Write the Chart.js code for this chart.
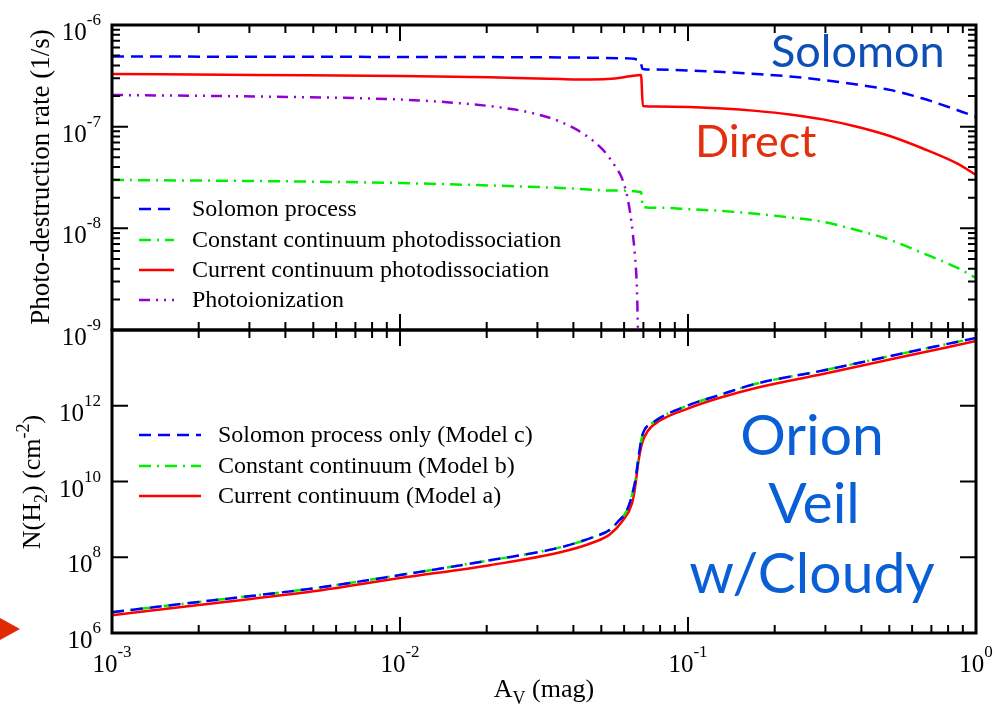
<!DOCTYPE html>
<html>
<head>
<meta charset="utf-8">
<script src="https://cdn.jsdelivr.net/npm/chart.js@4.4.1/dist/chart.umd.min.js"></script>
<style>
  html, body { margin: 0; padding: 0; background: #fff; }
  #wrap { position: relative; width: 995px; height: 707px; overflow: hidden; }
  #wrap canvas { position: absolute; left: 0; top: 0; }
  #marker { position: absolute; left: 0; top: 618px; width: 0; height: 0;
            border-top: 11px solid transparent; border-bottom: 11px solid transparent;
            border-left: 20px solid #e02a00; }
</style>
</head>
<body>
<div id="wrap">
  <canvas id="rates" width="995" height="707"></canvas>
  <canvas id="column" width="995" height="707"></canvas>
  <div id="marker"></div>
</div>
<script>
// ---- axis ticks ----
var avTicks = [1e-3, 1e-2, 1e-1, 1];
var avTickExp = ['-3', '-2', '-1', '0'];
var rateTicks = [1e-9, 1e-8, 1e-7, 1e-6];
var rateTickExp = ['-9', '-8', '-7', '-6'];
var colTicks = [1e6, 1e8, 1e10, 1e12];
var colTickExp = ['6', '8', '10', '12'];
var minorSteps = [2, 3, 4, 5, 6, 7, 8, 9];

// ---- photo-destruction rates (1/s) vs A_V ----
var solomonAv   = [0.001, 0.01, 0.036, 0.06, 0.066, 0.0685, 0.0695, 0.072, 0.101, 0.132, 0.172, 0.226, 0.294, 0.386, 0.502, 0.654, 0.859, 1.0];
var solomonRate = [4.9e-7, 4.85e-7, 4.8e-7, 4.7e-7, 4.6e-7, 4.3e-7, 3.7e-7, 3.66e-7, 3.57e-7, 3.45e-7, 3.3e-7, 3.12e-7, 2.88e-7, 2.6e-7, 2.3e-7, 1.89e-7, 1.46e-7, 1.25e-7];

var constAv   = [0.001, 0.00316, 0.01, 0.0205, 0.036, 0.0536, 0.0687, 0.0697, 0.0818, 0.101, 0.132, 0.172, 0.226, 0.294, 0.386, 0.502, 0.654, 0.859, 1.0];
var constRate = [2.99e-8, 2.92e-8, 2.79e-8, 2.64e-8, 2.5e-8, 2.36e-8, 2.28e-8, 1.62e-8, 1.59e-8, 1.54e-8, 1.48e-8, 1.39e-8, 1.28e-8, 1.16e-8, 9.6e-9, 7.7e-9, 5.7e-9, 4.1e-9, 3.25e-9];

var currAv   = [0.001, 0.00316, 0.01, 0.0205, 0.036, 0.0456, 0.0558, 0.0629, 0.0687, 0.0697, 0.078, 0.101, 0.132, 0.172, 0.226, 0.294, 0.386, 0.502, 0.654, 0.859, 1.0];
var currRate = [3.3e-7, 3.22e-7, 3.15e-7, 3.06e-7, 2.94e-7, 2.91e-7, 2.98e-7, 3.13e-7, 3.22e-7, 1.6e-7, 1.58e-7, 1.56e-7, 1.51e-7, 1.43e-7, 1.32e-7, 1.18e-7, 1.0e-7, 8.1e-8, 6.1e-8, 4.35e-8, 3.35e-8];

var ionAv   = [0.001, 0.00316, 0.01, 0.0149, 0.0222, 0.0282, 0.036, 0.0439, 0.0507, 0.0558, 0.059, 0.061, 0.0629, 0.0644, 0.0655, 0.0665, 0.067];
var ionRate = [2.05e-7, 1.98e-7, 1.85e-7, 1.73e-7, 1.55e-7, 1.38e-7, 1.12e-7, 8.3e-8, 5.9e-8, 4.1e-8, 3.1e-8, 2.28e-8, 1.45e-8, 8.6e-9, 5.2e-9, 2.5e-9, 1.0e-9];

// ---- H2 column density (cm^-2) vs A_V ----
var modelAAv = [0.001, 0.002, 0.005, 0.01, 0.0205, 0.036, 0.0468, 0.0536, 0.0594, 0.0639, 0.0655, 0.0671, 0.0692, 0.0726, 0.08, 0.0993, 0.129, 0.172, 0.294, 0.502, 1.0];
var modelAN  = [2.95e6, 5.5e6, 1.26e7, 2.82e7, 6.17e7, 1.35e8, 2.45e8, 4.07e8, 9.3e8, 2.63e9, 6.9e9, 2.95e10, 1.0e11, 2.19e11, 4.07e11, 8.3e11, 1.62e12, 2.95e12, 6.9e12, 1.66e13, 5.1e13];

var modelCAv = [0.001, 0.002, 0.005, 0.01, 0.0205, 0.036, 0.0468, 0.0536, 0.0574, 0.0614, 0.0655, 0.0681, 0.0697, 0.0755, 0.0993, 0.126, 0.172, 0.294, 0.502, 1.0];
var modelCN  = [3.55e6, 6.6e6, 1.51e7, 3.39e7, 8.3e7, 1.82e8, 3.39e8, 5.3e8, 9.1e8, 1.74e9, 1.0e10, 7.8e10, 1.82e11, 3.55e11, 1.0e12, 1.82e12, 3.8e12, 8.5e12, 2.04e13, 6.2e13];

var modelBAv = [0.001, 0.002, 0.005, 0.01, 0.0205, 0.036, 0.0468, 0.0536, 0.0574, 0.0614, 0.0655, 0.0681, 0.0697, 0.0755, 0.0993, 0.126, 0.172, 0.294, 0.502, 1.0];
var modelBN  = [3.55e6, 6.6e6, 1.51e7, 3.39e7, 8.3e7, 1.82e8, 3.39e8, 5.3e8, 9.1e8, 1.74e9, 1.0e10, 7.8e10, 1.82e11, 3.55e11, 1.0e12, 1.82e12, 3.8e12, 8.5e12, 2.04e13, 6.2e13];

var SERIF = '"Liberation Serif", "Times New Roman", serif';
var SANS = 'Lato, "Open Sans", sans-serif';

function pts(xs, ys) {
  return xs.map(function (x, i) { return {x: x, y: ys[i]}; });
}

function line(label, xs, ys, color, dash) {
  return {
    label: label, data: pts(xs, ys), borderColor: color, borderWidth: 2.5,
    borderDash: dash, pointRadius: 0, fill: false, cubicInterpolationMode: 'monotone'
  };
}

// "10" with a raised exponent
function drawPower(ctx, x, y, exp, align) {
  ctx.font = '25px ' + SERIF;
  var wb = ctx.measureText('10').width;
  ctx.font = '17px ' + SERIF;
  var we = ctx.measureText(exp).width;
  var left = align === 'right' ? x - wb - we : x - (wb + we) / 2;
  ctx.fillStyle = '#000';
  ctx.textAlign = 'left';
  ctx.textBaseline = 'alphabetic';
  ctx.font = '25px ' + SERIF;
  ctx.fillText('10', left, y);
  ctx.font = '17px ' + SERIF;
  ctx.fillText(exp, left + wb, y - 15);
}

// text runs with sub/superscripts, centred on (0,0) of the current transform
function drawRich(ctx, parts, size) {
  var small = Math.round(size * 0.68);
  var total = 0;
  parts.forEach(function (p) {
    ctx.font = (p.s ? small : size) + 'px ' + SERIF;
    p.w = ctx.measureText(p.t).width;
    total += p.w;
  });
  var x = -total / 2;
  ctx.fillStyle = '#000';
  ctx.textAlign = 'left';
  ctx.textBaseline = 'alphabetic';
  parts.forEach(function (p) {
    ctx.font = (p.s ? small : size) + 'px ' + SERIF;
    var dy = p.s === 'sub' ? 7 : (p.s === 'sup' ? -11 : 0);
    ctx.fillText(p.t, x, size * 0.33 + dy);
    x += p.w;
  });
}

function frameAndTicks(chart, yMajors, yMinors) {
  var ctx = chart.ctx, a = chart.chartArea;
  var xs = chart.scales.x, ys = chart.scales.y;
  ctx.save();
  ctx.strokeStyle = '#000';
  ctx.lineWidth = 2;
  ctx.beginPath();
  avTicks.forEach(function (v, i) {
    var px = xs.getPixelForValue(v);
    ctx.moveTo(px, a.top); ctx.lineTo(px, a.top + 16);
    ctx.moveTo(px, a.bottom); ctx.lineTo(px, a.bottom - 16);
    if (i < avTicks.length - 1) {
      minorSteps.forEach(function (m) {
        var mx = xs.getPixelForValue(v * m);
        ctx.moveTo(mx, a.top); ctx.lineTo(mx, a.top + 8);
        ctx.moveTo(mx, a.bottom); ctx.lineTo(mx, a.bottom - 8);
      });
    }
  });
  yMajors.forEach(function (v, i) {
    var py = ys.getPixelForValue(v);
    ctx.moveTo(a.left, py); ctx.lineTo(a.left + 16, py);
    ctx.moveTo(a.right, py); ctx.lineTo(a.right - 16, py);
    if (yMinors && i < yMajors.length - 1) {
      minorSteps.forEach(function (m) {
        var my = ys.getPixelForValue(v * m);
        ctx.moveTo(a.left, my); ctx.lineTo(a.left + 8, my);
        ctx.moveTo(a.right, my); ctx.lineTo(a.right - 8, my);
      });
    }
  });
  ctx.stroke();
  ctx.lineWidth = 3;
  ctx.strokeRect(a.left, a.top, a.right - a.left, a.bottom - a.top);
  ctx.restore();
}

function legendBox(chart, x0, x1, tx, rows) {
  var ctx = chart.ctx;
  ctx.save();
  chart.data.datasets.forEach(function (ds, i) {
    var y = rows[i];
    ctx.strokeStyle = ds.borderColor;
    ctx.lineWidth = ds.borderWidth;
    ctx.setLineDash(ds.borderDash || []);
    ctx.beginPath();
    ctx.moveTo(x0, y); ctx.lineTo(x1, y);
    ctx.stroke();
    ctx.setLineDash([]);
    ctx.fillStyle = '#000';
    ctx.font = '24px ' + SERIF;
    ctx.textAlign = 'left';
    ctx.textBaseline = 'middle';
    ctx.fillText(ds.label, tx, y + 1);
  });
  ctx.restore();
}

var ratesDeco = {
  id: 'ratesDeco',
  afterDraw: function (chart) {
    var ctx = chart.ctx, ys = chart.scales.y;
    frameAndTicks(chart, rateTicks, true);
    rateTicks.forEach(function (v, i) {
      drawPower(ctx, 101, ys.getPixelForValue(v) + 15, rateTickExp[i], 'right');
    });
    legendBox(chart, 139, 174, 192, [209, 240, 270, 300]);

    ctx.save();
    ctx.translate(40, 177);
    ctx.rotate(-Math.PI / 2);
    drawRich(ctx, [{t: 'Photo-destruction rate (1/s)'}], 27);
    ctx.restore();

    ctx.save();
    ctx.textAlign = 'left';
    ctx.textBaseline = 'alphabetic';
    ctx.font = '45px ' + SANS;
    ctx.fillStyle = '#0d4fb4';
    ctx.fillText('Solomon', 771, 67);
    ctx.fillStyle = '#e2300e';
    ctx.fillText('Direct', 695, 157);
    ctx.restore();
  }
};

var columnDeco = {
  id: 'columnDeco',
  afterDraw: function (chart) {
    var ctx = chart.ctx, a = chart.chartArea, xs = chart.scales.x, ys = chart.scales.y;
    frameAndTicks(chart, colTicks.concat([1e14]), false);
    colTicks.forEach(function (v, i) {
      drawPower(ctx, 101, ys.getPixelForValue(v) + 15, colTickExp[i], 'right');
    });
    avTicks.forEach(function (v, i) {
      drawPower(ctx, xs.getPixelForValue(v), a.bottom + 39, avTickExp[i], 'center');
    });
    legendBox(chart, 139, 201, 218, [435, 466, 496]);

    ctx.save();
    ctx.translate(31, 482);
    ctx.rotate(-Math.PI / 2);
    drawRich(ctx, [{t: 'N(H'}, {t: '2', s: 'sub'}, {t: ') (cm'}, {t: '-2', s: 'sup'}, {t: ')'}], 26);
    ctx.restore();

    ctx.save();
    ctx.translate(544, 688);
    drawRich(ctx, [{t: 'A'}, {t: 'V', s: 'sub'}, {t: ' (mag)'}], 26);
    ctx.restore();

    ctx.save();
    ctx.textAlign = 'center';
    ctx.textBaseline = 'alphabetic';
    ctx.font = '57px ' + SANS;
    ctx.fillStyle = '#0a5fd6';
    ctx.fillText('Orion', 812, 455);
    ctx.fillText('Veil', 814, 523);
    ctx.fillText('w/Cloudy', 812, 593);
    ctx.restore();
  }
};

function baseOptions(padding, yMin, yMax) {
  return {
    responsive: false,
    animation: false,
    devicePixelRatio: 1,
    events: [],
    layout: {padding: padding},
    scales: {
      x: {type: 'logarithmic', min: 1e-3, max: 1, display: false},
      y: {type: 'logarithmic', min: yMin, max: yMax, display: false}
    },
    plugins: {legend: {display: false}, tooltip: {enabled: false}}
  };
}

new Chart(document.getElementById('rates'), {
  type: 'line',
  data: {
    datasets: [
      line('Solomon process', solomonAv, solomonRate, '#0000ff', [12, 7]),
      line('Constant continuum photodissociation', constAv, constRate, '#00ee00', [12, 6, 2, 6]),
      line('Current continuum photodissociation', currAv, currRate, '#ff0000', []),
      line('Photoionization', ionAv, ionRate, '#9400d3', [11, 6, 2, 6, 2, 6])
    ]
  },
  options: baseOptions({left: 112, right: 19, top: 25, bottom: 377}, 1e-9, 1e-6),
  plugins: [ratesDeco]
});

new Chart(document.getElementById('column'), {
  type: 'line',
  data: {
    datasets: [
      line('Solomon process only (Model c)', modelCAv, modelCN, '#0000ff', [12, 7]),
      line('Constant continuum (Model b)', modelBAv, modelBN, '#00ee00', [12, 6, 2, 6]),
      line('Current continuum (Model a)', modelAAv, modelAN, '#ff0000', [])
    ]
  },
  options: baseOptions({left: 112, right: 19, top: 330, bottom: 74}, 1e6, 1e14),
  plugins: [columnDeco]
});
</script>
</body>
</html>
